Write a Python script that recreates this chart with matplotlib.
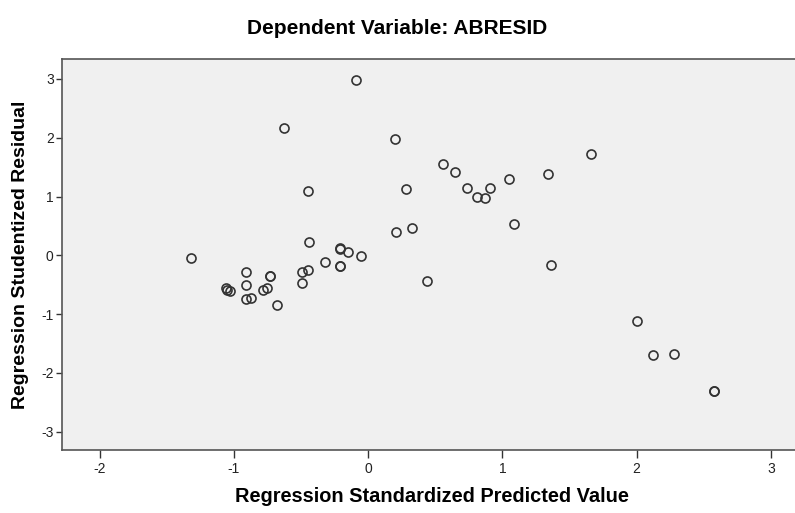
import matplotlib
matplotlib.use("Agg")
import matplotlib.pyplot as plt

plt.rcParams['font.family'] = ['Liberation Sans', 'DejaVu Sans']
plt.rcParams['axes.unicode_minus'] = False

# standardized predicted value (x) and studentized residual (y)
pred = [-0.09, -0.63, 0.20, 1.66, 0.56, 0.65, 1.34, 1.05, 0.74, 0.91,
        0.28, -0.45, 0.81, 0.87, 1.09, 0.33, 0.21, -0.44, -0.21, -0.21,
        -0.15, -0.05, -1.32, -0.32, -0.21, -0.21, 1.36, -0.91, -0.91, -1.06,
        -1.05, -1.03, -0.91, -0.87, -0.73, -0.73, -0.75, -0.78, -0.68, -0.49,
        -0.45, -0.49, 0.44, 2.00, 2.12, 2.28, 2.58, 2.58]
resid = [2.98, 2.16, 1.98, 1.72, 1.55, 1.42, 1.38, 1.30, 1.15, 1.15,
         1.13, 1.10, 0.99, 0.97, 0.53, 0.47, 0.40, 0.22, 0.12, 0.11,
         0.05, -0.01, -0.05, -0.12, -0.19, -0.18, -0.17, -0.29, -0.51, -0.55,
         -0.59, -0.60, -0.74, -0.73, -0.35, -0.36, -0.56, -0.59, -0.84, -0.28,
         -0.25, -0.47, -0.44, -1.11, -1.70, -1.68, -2.31, -2.31]

xticks = [-2, -1, 0, 1, 2, 3]
yticks = [-3, -2, -1, 0, 1, 2, 3]

fig = plt.figure(figsize=(7.95, 5.13), dpi=100)
ax = fig.add_axes([0.078, 0.123, 0.922, 0.762])
ax.set_facecolor('#f0f0f0')

ax.plot(pred, resid, linestyle='none', marker='o', markersize=6.5,
        markerfacecolor='none', markeredgecolor='#333333', markeredgewidth=1.2)

ax.set_xlim(-2.28, 3.18)
ax.set_ylim(-3.31, 3.34)
ax.set_xticks(xticks)
ax.set_yticks(yticks)
ax.tick_params(axis='x', direction='out', length=6, width=1, color='#333333',
               labelsize=10, labelcolor='#222222', pad=3)
ax.tick_params(axis='y', direction='out', length=4, width=1, color='#333333',
               labelsize=10, labelcolor='#222222', pad=2)

for side in ['left', 'top', 'bottom']:
    ax.spines[side].set_color('#555555')
    ax.spines[side].set_linewidth(1.2)
ax.spines['right'].set_visible(False)

ax.set_xlabel('Regression Standardized Predicted Value', fontsize=14.4,
              fontweight='bold', va='center')
ax.xaxis.set_label_coords(0.505, -0.12)
ax.set_ylabel('Regression Studentized Residual', fontsize=14,
              fontweight='bold', va='center')
ax.yaxis.set_label_coords(-0.057, 0.5)
fig.text(0.5, 0.945, 'Dependent Variable: ABRESID', ha='center', va='center',
         fontsize=15, fontweight='bold')

fig.savefig('out.png', dpi=100)
